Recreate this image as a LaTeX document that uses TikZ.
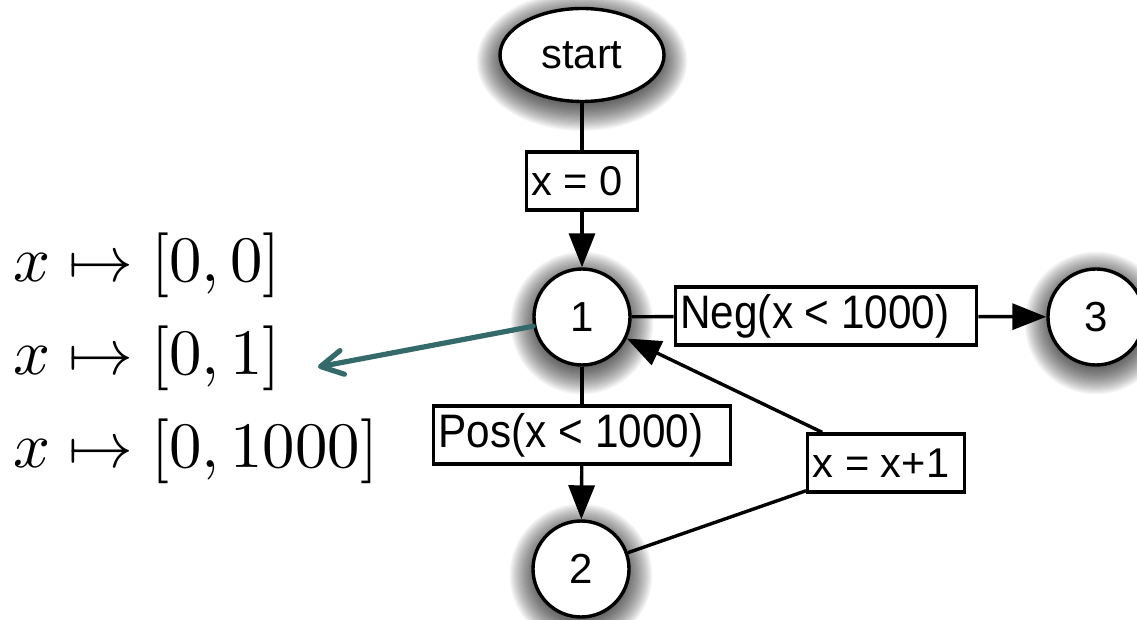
\documentclass[tikz,border=0pt]{standalone}
\usepackage{graphicx}
\usepackage{fontspec}
\usetikzlibrary{arrows.meta,shapes.geometric,backgrounds}
\newfontfamily\arialf{Liberation Sans}
\definecolor{hintteal}{RGB}{52,106,106}
\newcommand{\bigmath}[1]{\scalebox{3.24}{$#1$}}
\newcommand{\narrowtext}[1]{\scalebox{0.9}[1]{#1}}
% soft drop shadow: stacked translucent ellipses under a node
% #1 node, #2 x radius, #3 y radius
\newcommand{\nodehalo}[3]{%
  \foreach \k in {0,...,24}{%
    \fill[black,opacity=0.034] ([yshift=-3pt]#1.center)
      ellipse [x radius=#2+\k*0.55pt, y radius=#3+\k*0.55pt];}}
\begin{document}
\begin{tikzpicture}[x=0.5pt,y=-0.5pt,
  state/.style={circle,draw,line width=1.7pt,fill=white,minimum size=48pt,
      inner sep=0pt,font=\arialf\fontsize{21}{24}\selectfont},
  entry/.style={ellipse,draw,line width=1.7pt,fill=white,minimum width=82pt,
      minimum height=46.5pt,inner sep=0pt,font=\arialf\fontsize{20.8}{24}\selectfont},
  cmd/.style={rectangle,draw,line width=1.7pt,fill=white,inner xsep=2.5pt,
      inner ysep=0pt,minimum height=29pt,font=\arialf\fontsize{20.8}{24}\selectfont,
      execute at end node={\kern5pt}},
  guard/.style={cmd,font=\arialf\fontsize{23.5}{27}\selectfont,execute at end node={\kern6pt}},
  link/.style={line width=1.7pt},
  flow/.style={line width=1.7pt,-{Triangle[length=17pt,width=13pt]}},
  hint/.style={draw=hintteal,line width=2.6pt,line cap=round,line join=round,
      -{Straight Barb[length=11pt,width=12pt,line cap=round,line join=round]}},
  interval/.style={anchor=base west,inner sep=0pt}]

\useasboundingbox (0,0) rectangle (1137,620);

% control-flow graph
\node[entry] (start) at (582,55) {start};
\node[state] (n1) at (582,317) {1};
\node[state] (n2) at (581,569) {2};
\node[state] (n3) at (1096,317) {3};

\node[cmd]   (init) at (582,181) {x = 0};
\node[guard] (neg)  at (826,316) {\narrowtext{Neg(x < 1000)}};
\node[guard] (pos)  at (582,435) {\narrowtext{Pos(x < 1000)}};
\node[cmd]   (inc)  at (886,463) {x = x+1};

\begin{scope}[on background layer]
  \nodehalo{n1}{22.5pt}{22.5pt}
  \nodehalo{n2}{22.5pt}{22.5pt}
  \nodehalo{n3}{22.5pt}{22.5pt}
  \nodehalo{start}{39.5pt}{21.8pt}
\end{scope}

\draw[link] (start) -- (init);
\draw[flow] (init) -- (n1);
\draw[link] (n1) -- (neg);
\draw[flow] (neg) -- (n3);
\draw[link] (n1) -- (pos);
\draw[flow] (pos) -- (n2);
\draw[link] (n2) -- (inc);
\draw[flow] (inc) -- (n1);

% abstract values at node 1
\node[interval] (v0) at (13,282) {\bigmath{x \mapsto [0,0]}};
\node[interval] (v1) at (13,375) {\bigmath{x \mapsto [0,1]}};
\node[interval] (v2) at (13,468) {\bigmath{x \mapsto [0,1000]}};

\coordinate (hintend) at (318,367);
\draw[hint] (n1) -- (hintend);
\end{tikzpicture}
\end{document}
